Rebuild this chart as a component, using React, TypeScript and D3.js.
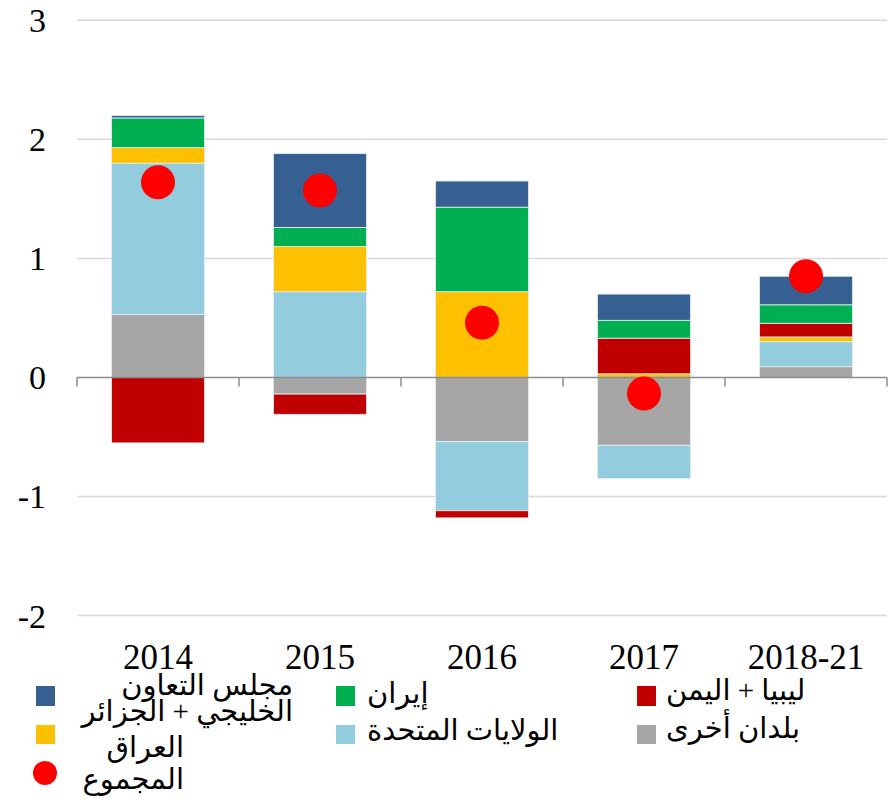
import React from "react";
import * as d3 from "d3";

const categories = ["2014", "2015", "2016", "2017", "2018-21"];
const otherCountries = [0.53, -0.14, -0.54, -0.57, 0.09];
const unitedStates = [1.27, 0.72, -0.58, -0.28, 0.21];
const iraq = [0.13, 0.38, 0.72, 0.03, 0.04];
const libyaYemen = [-0.55, -0.17, -0.06, 0.3, 0.115];
const iran = [0.25, 0.16, 0.71, 0.15, 0.155];
const gccAlgeria = [0.02, 0.62, 0.22, 0.22, 0.24];
const totals = [1.64, 1.57, 0.46, -0.135, 0.85];
const yTicks = [-2, -1, 0, 1, 2, 3];

const seriesKeys = ["other", "us", "iraq", "libya", "iran", "gcc"];
const seriesValues: Record<string, number[]> = {
  other: otherCountries,
  us: unitedStates,
  iraq: iraq,
  libya: libyaYemen,
  iran: iran,
  gcc: gccAlgeria,
};
const colors: Record<string, string> = {
  other: "#a6a6a6",
  us: "#93cddd",
  iraq: "#ffc000",
  libya: "#c00000",
  iran: "#00b050",
  gcc: "#376092",
};

const W = 896;
const H = 808;
const plotLeft = 77;
const plotRight = 887;

export default function App() {
  const y = d3.scaleLinear().domain([-2, 3]).range([615.5, 20.3]);
  const x = d3
    .scaleBand<string>()
    .domain(categories)
    .range([plotLeft, plotRight])
    .paddingInner(0.426)
    .paddingOuter(0.213);

  const table = categories.map((c, i) => {
    const row: any = { cat: c };
    seriesKeys.forEach((k) => (row[k] = seriesValues[k][i]));
    return row;
  });
  const stacked = d3
    .stack<any>()
    .keys(seriesKeys)
    .offset(d3.stackOffsetDiverging)(table);

  const serif = "'Liberation Serif', 'Times New Roman', serif";
  const arabic = "'Liberation Serif', 'DejaVu Sans', serif";
  const step = x.step();
  const boundaries = d3.range(categories.length + 1).map((i) => plotLeft + i * step);

  return (
    <svg
      width={W}
      height={H}
      style={{ position: "absolute", left: 0, top: 0, background: "#fff" }}
    >
      {yTicks
        .filter((t) => t !== 0)
        .map((t) => (
          <line
            key={"g" + t}
            x1={plotLeft}
            x2={plotRight}
            y1={y(t)}
            y2={y(t)}
            stroke="#d9d9d9"
            strokeWidth={1.5}
          />
        ))}
      {yTicks.map((t) => (
        <text
          key={"t" + t}
          x={46}
          y={y(t) + 12}
          textAnchor="end"
          fontFamily={serif}
          fontSize={34}
          fill="#000"
        >
          {t}
        </text>
      ))}
      {stacked.map((s) => (
        <g key={s.key} fill={colors[s.key]}>
          {s.map((d, i) => {
            const y0 = y(d[0]);
            const y1 = y(d[1]);
            const h = Math.abs(y0 - y1);
            if (h < 0.01) return null;
            return (
              <rect
                key={i}
                x={x(categories[i])}
                width={x.bandwidth()}
                y={Math.min(y0, y1)}
                height={h}
                stroke="#e8eef4"
                strokeWidth={0.8}
              />
            );
          })}
        </g>
      ))}
      <line
        x1={plotLeft}
        x2={plotRight}
        y1={y(0)}
        y2={y(0)}
        stroke="#8c8c8c"
        strokeWidth={1.5}
      />
      {boundaries.map((bx, i) => (
        <line
          key={"b" + i}
          x1={bx}
          x2={bx}
          y1={y(0)}
          y2={y(0) + 9}
          stroke="#8c8c8c"
          strokeWidth={1.5}
        />
      ))}
      {totals.map((v, i) => (
        <circle
          key={"c" + i}
          cx={(x(categories[i]) as number) + x.bandwidth() / 2}
          cy={y(v)}
          r={17}
          fill="#ff0000"
        />
      ))}
      {categories.map((c) => (
        <text
          key={"x" + c}
          x={(x(c) as number) + x.bandwidth() / 2}
          y={669}
          textAnchor="middle"
          fontFamily={serif}
          fontSize={35}
          fill="#000"
        >
          {c}
        </text>
      ))}
      {/* Legend */}
      <g fontFamily={arabic} fontSize={29} fill="#000">
        <rect x={36} y={686} width={19} height={20} fill={colors.gcc} />
        <text x={293} y={695} textAnchor="end">
          مجلس التعاون
        </text>
        <text x={293} y={721} textAnchor="end">
          الخليجي + الجزائر
        </text>
        <rect x={36} y={725} width={19} height={19} fill={colors.iraq} />
        <text x={184} y={757} textAnchor="end">
          العراق
        </text>
        <circle cx={45} cy={773} r={12} fill="#ff0000" />
        <text x={184} y={789} textAnchor="end">
          المجموع
        </text>

        <rect x={336} y={686} width={19} height={20} fill={colors.iran} />
        <text x={367} y={703} textAnchor="start">
          إيران
        </text>
        <rect x={336} y={725} width={19} height={19} fill={colors.us} />
        <text x={367} y={740} textAnchor="start">
          الولايات المتحدة
        </text>

        <rect x={637} y={686} width={19} height={20} fill={colors.libya} />
        <text x={666} y={700} textAnchor="start">
          ليبيا + اليمن
        </text>
        <rect x={637} y={725} width={19} height={19} fill={colors.other} />
        <text x={666} y={738} textAnchor="start">
          بلدان أخرى
        </text>
      </g>
    </svg>
  );
}
